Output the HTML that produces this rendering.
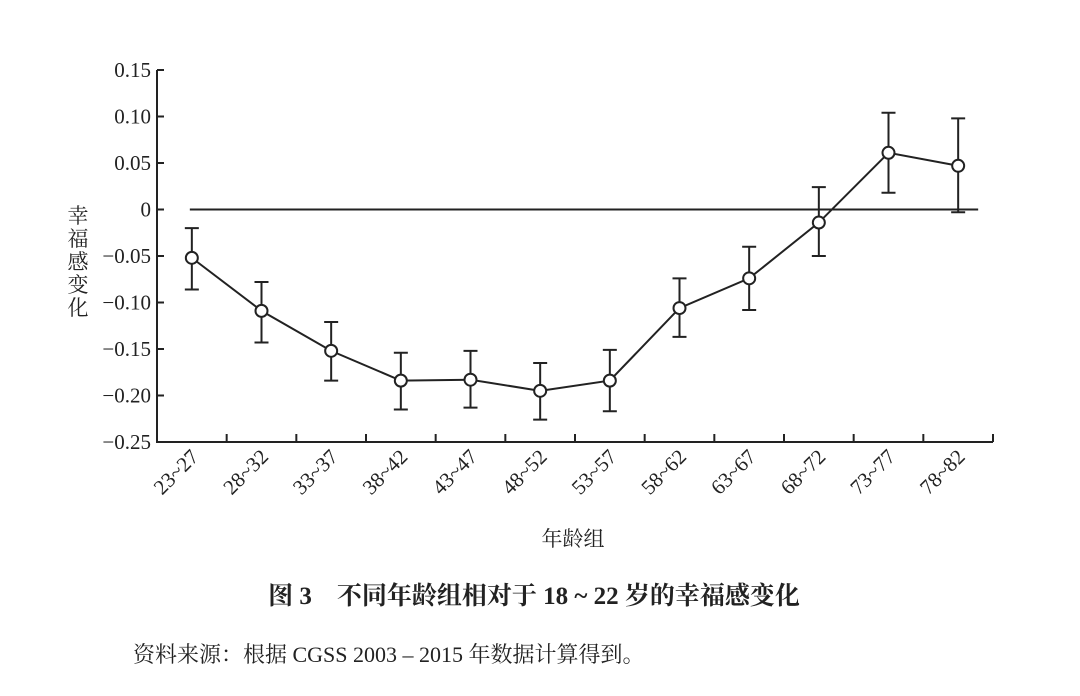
<!DOCTYPE html>
<html><head><meta charset="utf-8"><style>
body{margin:0;background:#fff;width:1080px;height:696px;overflow:hidden}
svg{display:block}
text{font-family:"Liberation Serif","Noto Serif CJK SC",serif;fill:#222}
</style></head><body>
<svg id="chart" width="1080" height="696">
<g id="axes"></g><g id="marks"></g>
<text x="573" y="546" font-size="21" text-anchor="middle">年龄组</text>
<text x="534" y="604" font-size="25" font-weight="bold" text-anchor="middle">图 3　不同年龄组相对于 18 ~ 22 岁的幸福感变化</text>
<text x="133" y="662" font-size="22">资料来源：根据 CGSS 2003 – 2015 年数据计算得到。</text>
</svg>
<script>
const categories=["23~27","28~32","33~37","38~42","43~47","48~52","53~57","58~62","63~67","68~72","73~77","78~82"];
const values=[-0.052,-0.109,-0.152,-0.184,-0.183,-0.195,-0.184,-0.106,-0.074,-0.014,0.061,0.047];
const upper=[-0.020,-0.078,-0.121,-0.154,-0.152,-0.165,-0.151,-0.074,-0.040,0.024,0.104,0.098];
const lower=[-0.086,-0.143,-0.184,-0.215,-0.213,-0.226,-0.217,-0.137,-0.108,-0.050,0.018,-0.003];
const yTicks=[0.15,0.10,0.05,0,-0.05,-0.10,-0.15,-0.20,-0.25];
const yLabels=["0.15","0.10","0.05","0","-0.05","-0.10","-0.15","-0.20","-0.25"];
const NS="http://www.w3.org/2000/svg";
const x0=157,x1=993,yTop=70,yBot=442,vMax=0.15,vMin=-0.25;
const bw=(x1-x0)/categories.length;
const xs=i=>x0+bw*(i+0.5);
const ys=v=>yTop+(vMax-v)/(vMax-vMin)*(yBot-yTop);
function mk(tag,attrs,parent){const e=document.createElementNS(NS,tag);for(const k in attrs)e.setAttribute(k,attrs[k]);parent.appendChild(e);return e;}
const ax=document.getElementById('axes'),mg=document.getElementById('marks');
const st={stroke:'#222','stroke-width':2,fill:'none'};
let e=mk('path',Object.assign({d:`M${x0},${yTop}V${yBot}H${x1}`},st),ax);


yTicks.forEach((t,i)=>{
  const y=ys(t);
  let l=mk('line',Object.assign({x1:x0,x2:x0+7,y1:y,y2:y},st),ax);
  
  
  let tx=mk('text',{x:151,y:y+7,'font-size':21,'text-anchor':'end'},ax);
  tx.textContent=yLabels[i].replace('-','−');
  
  
});
for(let i=1;i<=categories.length;i++){
  const x=x0+bw*i;
  let l=mk('line',Object.assign({x1:x,x2:x,y1:yBot,y2:yBot-8},st),ax);
  
  
}
categories.forEach((c,i)=>{
  const x=xs(i)+8,y=yBot+16;
  let t=mk('text',{x:x,y:y,'font-size':21,'text-anchor':'end',transform:`rotate(-45 ${x} ${y})`},ax);
  t.textContent=c;
  
  
});
let z=mk('line',Object.assign({x1:xs(0)-2,x2:xs(categories.length-1)+20,y1:ys(0),y2:ys(0)},st),mg);


let p=mk('polyline',Object.assign({points:values.map((v,i)=>xs(i)+','+ys(v)).join(' ')},st),mg);


values.forEach((v,i)=>{
  const x=xs(i);
  let eb=mk('path',Object.assign({d:`M${x},${ys(upper[i])}V${ys(lower[i])}M${x-7},${ys(upper[i])}h14M${x-7},${ys(lower[i])}h14`},st),mg);
  
  
  let c=mk('circle',{cx:x,cy:ys(v),r:6,fill:'#fff',stroke:'#222','stroke-width':2},mg);
  
  
});
const yl=["幸","福","感","变","化"];
yl.forEach((ch,i)=>{
  let t=mk('text',{x:78,y:223+i*23,'font-size':21,'text-anchor':'middle'},ax);
  t.textContent=ch;
  
  
});
</script>
</body></html>
